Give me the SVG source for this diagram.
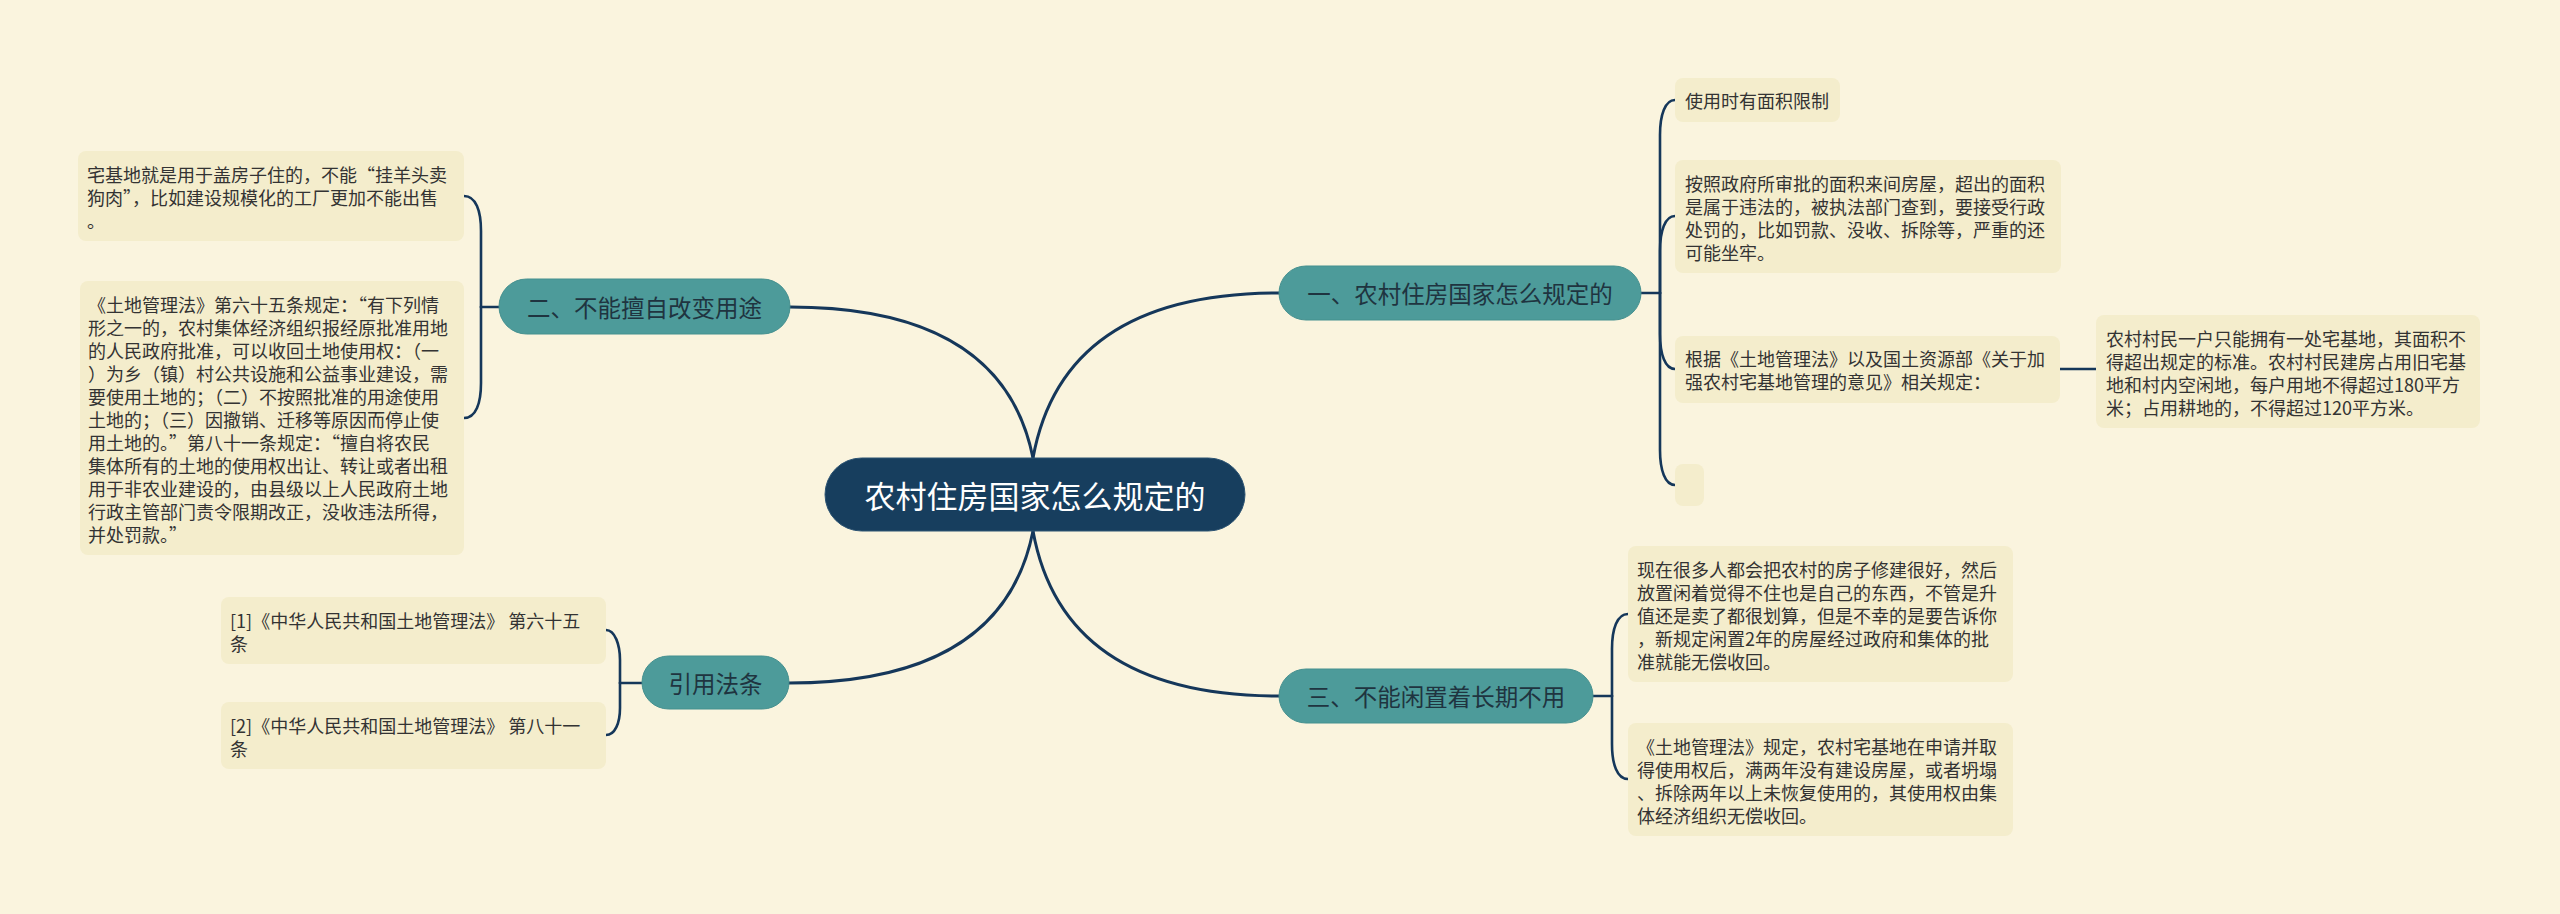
<svg xmlns="http://www.w3.org/2000/svg" width="2560" height="914" viewBox="0 0 2560 914">
<style>
.bg{fill:#faf4de}
.leaf{fill:#f4edcc}
.lt{font-family:"Noto Sans CJK SC","Noto Sans",sans-serif;font-size:18px;fill:#333333;dominant-baseline:central}
.br{fill:#4d9b9a;stroke:#45908f;stroke-width:1}
.bt{font-family:"Noto Sans CJK SC","Noto Sans",sans-serif;font-size:23.5px;fill:#1f3440;dominant-baseline:central;text-anchor:middle}
.ct{font-family:"Noto Sans CJK SC","Noto Sans",sans-serif;font-size:31px;fill:#ffffff;dominant-baseline:central;text-anchor:middle}
.ln{fill:none;stroke:#15375a;stroke-width:3;stroke-linecap:round}
.ls{fill:none;stroke:#15375a;stroke-width:2.6;stroke-linecap:round}
</style>
<rect class="bg" x="0" y="0" width="2560" height="914"/>
<g id="connectors">
<path class="ln" d="M1033,458 Q1003,307 790,307"/>
<path class="ln" d="M1033,458 Q1063,293 1279,293"/>
<path class="ln" d="M1033,531 Q1063,696 1279,696"/>
<path class="ln" d="M1033,531 Q1003,683 789,683"/>
<path class="ls" d="M499,307 H481"/>
<path class="ls" d="M481,307 V231 C481,211 476,196 464,196"/>
<path class="ls" d="M481,307 V383 C481,403 476,418 464,418"/>
<path class="ls" d="M642,683 H620"/>
<path class="ls" d="M620,683 V660 C620,645 615,630 606,630"/>
<path class="ls" d="M620,683 V708 C620,723 615,735 606,735"/>
<path class="ls" d="M1641,293 H1660"/>
<path class="ls" d="M1660,293 V135 C1660,115 1665,100 1675,100"/>
<path class="ls" d="M1660,293 V251 C1660,231 1665,216 1675,216"/>
<path class="ls" d="M1660,293 V334 C1660,354 1665,369 1675,369"/>
<path class="ls" d="M1660,293 V450 C1660,470 1665,485 1675,485"/>
<path class="ls" d="M2060,369 H2096"/>
<path class="ls" d="M1593,696 H1612"/>
<path class="ls" d="M1612,696 V649 C1612,629 1617,614 1628,614"/>
<path class="ls" d="M1612,696 V744 C1612,764 1617,779 1628,779"/>
</g>
<g id="center">
<rect x="825" y="458" width="420" height="73" rx="36.5" fill="#173e5e" stroke="#2d5473" stroke-width="1"/>
<text class="ct" x="1035" y="494">农村住房国家怎么规定的</text>
</g>
<g id="branch1">
<rect class="br" x="1279" y="266" width="362" height="54" rx="27"/>
<text class="bt" x="1460" y="293">一、农村住房国家怎么规定的</text>
</g>
<g id="branch2">
<rect class="br" x="499" y="279" width="291" height="55" rx="27.5"/>
<text class="bt" x="644.5" y="306.5">二、不能擅自改变用途</text>
</g>
<g id="branch3">
<rect class="br" x="1279" y="669" width="314" height="54" rx="27"/>
<text class="bt" x="1436" y="696">三、不能闲置着长期不用</text>
</g>
<g id="branch4">
<rect class="br" x="642" y="656" width="147" height="53" rx="26.5"/>
<text class="bt" x="715.5" y="682.5">引用法条</text>
</g>
<g id="leaf1a">
<rect class="leaf" x="1675" y="78" width="165" height="44" rx="8"/>
<text class="lt" x="1685" y="100">使用时有面积限制</text>
</g>
<g id="leaf1b">
<rect class="leaf" x="1675" y="160" width="386" height="113" rx="8"/>
<text class="lt"><tspan x="1685" y="183">按照政府所审批的面积来间房屋，超出的面积</tspan><tspan x="1685" y="206">是属于违法的，被执法部门查到，要接受行政</tspan><tspan x="1685" y="229">处罚的，比如罚款、没收、拆除等，严重的还</tspan><tspan x="1685" y="252">可能坐牢。</tspan></text>
</g>
<g id="leaf1c">
<rect class="leaf" x="1675" y="336" width="385" height="67" rx="8"/>
<text class="lt"><tspan x="1685" y="358">根据《土地管理法》以及国土资源部《关于加</tspan><tspan x="1685" y="381">强农村宅基地管理的意见》相关规定：</tspan></text>
</g>
<g id="leaf1c1">
<rect class="leaf" x="2096" y="315" width="384" height="113" rx="8"/>
<text class="lt"><tspan x="2106" y="338">农村村民一户只能拥有一处宅基地，其面积不</tspan><tspan x="2106" y="361">得超出规定的标准。农村村民建房占用旧宅基</tspan><tspan x="2106" y="384">地和村内空闲地，每户用地不得超过180平方</tspan><tspan x="2106" y="407">米；占用耕地的，不得超过120平方米。</tspan></text>
</g>
<g id="leaf1d">
<rect class="leaf" x="1675" y="464" width="29" height="42" rx="8"/>
</g>
<g id="leaf2a">
<rect class="leaf" x="78" y="151" width="386" height="90" rx="8"/>
<text class="lt"><tspan x="87" y="174">宅基地就是用于盖房子住的，不能“挂羊头卖</tspan><tspan x="87" y="197">狗肉”，比如建设规模化的工厂更加不能出售</tspan><tspan x="87" y="220">。</tspan></text>
</g>
<g id="leaf2b">
<rect class="leaf" x="80" y="281" width="384" height="274" rx="8"/>
<text class="lt"><tspan x="88" y="304">《土地管理法》第六十五条规定：“有下列情</tspan><tspan x="88" y="327">形之一的，农村集体经济组织报经原批准用地</tspan><tspan x="88" y="350">的人民政府批准，可以收回土地使用权：（一</tspan><tspan x="88" y="373">）为乡（镇）村公共设施和公益事业建设，需</tspan><tspan x="88" y="396">要使用土地的；（二）不按照批准的用途使用</tspan><tspan x="88" y="419">土地的；（三）因撤销、迁移等原因而停止使</tspan><tspan x="88" y="442">用土地的。”第八十一条规定：“擅自将农民</tspan><tspan x="88" y="465">集体所有的土地的使用权出让、转让或者出租</tspan><tspan x="88" y="488">用于非农业建设的，由县级以上人民政府土地</tspan><tspan x="88" y="511">行政主管部门责令限期改正，没收违法所得，</tspan><tspan x="88" y="534">并处罚款。”</tspan></text>
</g>
<g id="leaf3a">
<rect class="leaf" x="1628" y="546" width="385" height="136" rx="8"/>
<text class="lt"><tspan x="1637" y="569">现在很多人都会把农村的房子修建很好，然后</tspan><tspan x="1637" y="592">放置闲着觉得不住也是自己的东西，不管是升</tspan><tspan x="1637" y="615">值还是卖了都很划算，但是不幸的是要告诉你</tspan><tspan x="1637" y="638">，新规定闲置2年的房屋经过政府和集体的批</tspan><tspan x="1637" y="661">准就能无偿收回。</tspan></text>
</g>
<g id="leaf3b">
<rect class="leaf" x="1628" y="723" width="385" height="113" rx="8"/>
<text class="lt"><tspan x="1637" y="746">《土地管理法》规定，农村宅基地在申请并取</tspan><tspan x="1637" y="769">得使用权后，满两年没有建设房屋，或者坍塌</tspan><tspan x="1637" y="792">、拆除两年以上未恢复使用的，其使用权由集</tspan><tspan x="1637" y="815">体经济组织无偿收回。</tspan></text>
</g>
<g id="leaf4a">
<rect class="leaf" x="221" y="597" width="385" height="67" rx="8"/>
<text class="lt"><tspan x="230" y="620">[1]《中华人民共和国土地管理法》 第六十五</tspan><tspan x="230" y="643">条</tspan></text>
</g>
<g id="leaf4b">
<rect class="leaf" x="221" y="702" width="385" height="67" rx="8"/>
<text class="lt"><tspan x="230" y="725">[2]《中华人民共和国土地管理法》 第八十一</tspan><tspan x="230" y="748">条</tspan></text>
</g>
</svg>
